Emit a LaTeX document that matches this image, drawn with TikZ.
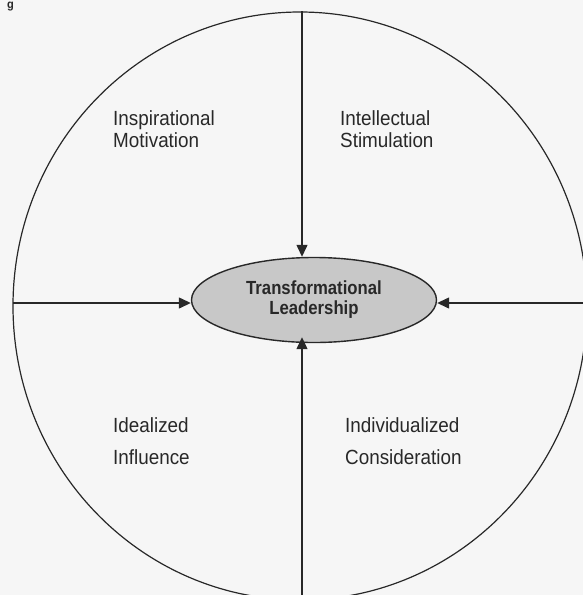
\documentclass[tikz,border=0pt]{standalone}
\usepackage{fontspec}
\newfontfamily\labfont[FakeStretch=0.92]{Liberation Sans}
\newfontfamily\ctrfont[FakeStretch=0.88]{Liberation Sans}
\usetikzlibrary{shapes.geometric,arrows.meta}
\definecolor{ink}{RGB}{40,40,40}
\definecolor{paper}{RGB}{246,246,246}
\definecolor{ovalfill}{RGB}{200,200,200}
\begin{document}
\begin{tikzpicture}[x=1pt,y=-1pt,
  conn/.style={draw=ink,line width=1.3pt,-{Triangle[length=12pt,width=11pt]}},
  lab/.style={inner sep=0pt,anchor=north west,align=left,text=ink,
    font=\labfont\fontsize{20.5}{22}\selectfont},
  labwide/.style={lab,font=\labfont\fontsize{20.5}{32}\selectfont},
  core/.style={ellipse,draw=ink,line width=1.4pt,fill=ovalfill,
    minimum width=245pt,minimum height=85pt,inner sep=0pt,align=center,
    text=ink,font=\ctrfont\bfseries\fontsize{19}{20}\selectfont}]
\useasboundingbox (0,0) rectangle (583,595);
\fill[paper] (0,0) rectangle (583,595);
\node[inner sep=0pt,anchor=base west,text=ink,font=\labfont\bfseries\fontsize{12}{12}\selectfont] (frag) at (7,8) {g};
\draw[ink,line width=1.2pt] (300,306) ellipse [x radius=287, y radius=294];
\node[core] (tl) at (314,300) {Transformational\\Leadership};
\coordinate (ptop) at (302,11);
\coordinate (pbot) at (302,600);
\coordinate (pleft) at (13,303);
\coordinate (pright) at (590,303);
\draw[conn] (ptop) -- (ptop |- tl.north);
\draw[conn] (pbot) -- ([yshift=6pt]pbot |- tl.south);
\draw[conn] (pleft) -- (pleft -| tl.west);
\draw[conn] (pright) -- (pright -| tl.east);
\node[lab] (im) at (113,110) {Inspirational\\Motivation};
\node[lab] (is) at (340,110) {Intellectual\\Stimulation};
\node[labwide] (ii) at (113,417) {Idealized\\Influence};
\node[labwide] (ic) at (345,417) {Individualized\\Consideration};
\end{tikzpicture}
\end{document}
